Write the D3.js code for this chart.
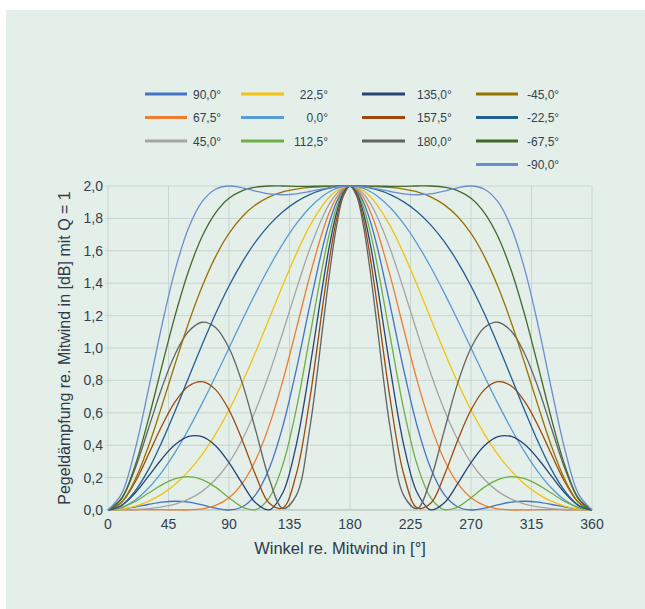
<!DOCTYPE html>
<html lang="de">
<head>
  <meta charset="UTF-8">
  <title>Pegeldämpfung re. Mitwind</title>
  <script src="https://d3js.org/d3.v7.min.js"></script>
  <style>
    html, body {
      margin: 0;
      padding: 0;
      overflow: hidden;
      background: #ffffff;
      font-family: "Liberation Sans", Arial, sans-serif;
    }
    svg {
      display: block;
    }
    .tick-label {
      font-size: 14px;
      fill: #333f4f;
    }
    .axis-title {
      font-size: 16.5px;
      fill: #2f3b4b;
    }
    .legend-text {
      font-size: 12px;
      fill: #333f4f;
    }
  </style>
</head>
<body>
  <svg id="chart" width="645" height="609"></svg>

  <script>
    // Winkel (x) – gemeinsame Stützstellen aller Kurven
    const angles = [0, 10, 20, 30, 40, 50, 60, 70, 80, 90, 100, 110, 120, 130, 140, 150, 160, 165, 170, 175,
      180, 185, 190, 195, 200, 210, 220, 230, 240, 250, 260, 270, 280, 290, 300, 310, 320, 330, 340, 350, 360];

    const xTicks = [0, 45, 90, 135, 180, 225, 270, 315, 360];
    const yTicks = [0, 0.2, 0.4, 0.6, 0.8, 1.0, 1.2, 1.4, 1.6, 1.8, 2.0];

    const seriesLabels = ["90,0°", "67,5°", "45,0°", "22,5°", "0,0°", "112,5°", "135,0°",
      "157,5°", "180,0°", "-45,0°", "-22,5°", "-67,5°", "-90,0°"];

    const y90 = [0, .005, .018, .034, .048, .054, .049, .032, .011, 0, .020, .097, .258, .516, .864, 1.259, 1.632, 1.784, 1.901, 1.974,
      2, 1.974, 1.901, 1.784, 1.632, 1.259, .864, .516, .258, .097, .020, 0, .011, .032, .049, .054, .048, .034, .018, .005, 0];
    const y67 = [0, .0005, .0015, .002, .002, .0004, .0004, .007, .028, .076, .166, .312, .524, .797, 1.115, 1.442, 1.730, 1.844, 1.929, 1.982,
      2, 1.982, 1.929, 1.844, 1.730, 1.442, 1.115, .797, .524, .312, .166, .076, .028, .007, .0004, .0004, .002, .002, .0015, .0005, 0];
    const y45 = [0, .001, .003, .009, .019, .037, .067, .115, .188, .293, .437, .621, .844, 1.096, 1.359, 1.609, 1.815, 1.894, 1.952, 1.988,
      2, 1.988, 1.952, 1.894, 1.815, 1.609, 1.359, 1.096, .844, .621, .437, .293, .188, .115, .067, .037, .019, .009, .003, .001, 0];
    const y22 = [0, .006, .023, .053, .098, .159, .240, .342, .468, .617, .789, .980, 1.182, 1.387, 1.581, 1.752, 1.885, 1.935, 1.971, 1.993,
      2, 1.993, 1.971, 1.935, 1.885, 1.752, 1.581, 1.387, 1.182, .980, .789, .617, .468, .342, .240, .159, .098, .053, .023, .006, 0];
    const y0 = [0, .015, .060, .134, .234, .357, .500, .658, .826, 1, 1.174, 1.342, 1.500, 1.643, 1.766, 1.866, 1.940, 1.966, 1.985, 1.996,
      2, 1.996, 1.985, 1.966, 1.940, 1.866, 1.766, 1.643, 1.500, 1.342, 1.174, 1, .826, .658, .500, .357, .234, .134, .060, .015, 0];
    const y112 = [0, .014, .052, .103, .155, .193, .206, .188, .141, .076, .018, .003, .077, .279, .620, 1.065, 1.523, 1.718, 1.870, 1.967,
      2, 1.967, 1.870, 1.718, 1.523, 1.065, .620, .279, .077, .003, .018, .076, .141, .188, .206, .193, .155, .103, .052, .014, 0];
    const y135 = [0, .027, .103, .207, .315, .404, .454, .453, .397, .293, .161, .043, .001, .106, .401, .870, 1.404, 1.644, 1.835, 1.957,
      2, 1.957, 1.835, 1.644, 1.404, .870, .401, .106, .001, .043, .161, .293, .397, .453, .454, .404, .315, .207, .103, .027, 0];
    const y157 = [0, .046, .170, .341, .519, .669, .765, .792, .743, .617, .428, .212, .041, .013, .220, .679, 1.278, 1.563, 1.795, 1.947,
      2, 1.947, 1.795, 1.563, 1.278, .679, .220, .013, .041, .212, .428, .617, .743, .792, .765, .669, .519, .341, .170, .046, 0];
    const y180 = [0, .068, .252, .500, .753, .963, 1.103, 1.159, 1.126, 1, .780, .487, .190, .009, .089, .500, 1.147, 1.476, 1.752, 1.936,
      2, 1.936, 1.752, 1.476, 1.147, .500, .089, .009, .190, .487, .780, 1, 1.126, 1.159, 1.103, .963, .753, .500, .252, .068, 0];
    const yM45 = [0, .048, .185, .391, .641, .904, 1.156, 1.379, 1.564, 1.707, 1.812, 1.885, 1.933, 1.964, 1.981, 1.991, 1.997, 1.998, 1.999, 2,
      2, 2, 1.999, 1.998, 1.997, 1.991, 1.981, 1.964, 1.933, 1.885, 1.812, 1.707, 1.564, 1.379, 1.156, .904, .641, .391, .185, .048, 0];
    const yM22 = [0, .029, .115, .248, .419, .613, .818, 1.020, 1.211, 1.383, 1.532, 1.658, 1.760, 1.841, 1.902, 1.947, 1.977, 1.987, 1.994, 1.999,
      2, 1.999, 1.994, 1.987, 1.977, 1.947, 1.902, 1.841, 1.760, 1.658, 1.532, 1.383, 1.211, 1.020, .818, .613, .419, .248, .115, .029, 0];
    const yM67 = [0, .071, .270, .558, .885, 1.203, 1.477, 1.688, 1.834, 1.924, 1.972, 1.993, 2, 2, 1.998, 1.998, 1.999, 1.999, 2, 2,
      2, 2, 2, 1.999, 1.999, 1.998, 1.998, 2, 2, 1.993, 1.972, 1.924, 1.834, 1.688, 1.477, 1.203, .885, .558, .270, .071, 0];
    const yM90 = [0, .098, .368, .741, 1.137, 1.484, 1.742, 1.903, 1.980, 2, 1.989, 1.968, 1.951, 1.946, 1.952, 1.966, 1.982, 1.990, 1.995, 1.999,
      2, 1.999, 1.995, 1.990, 1.982, 1.966, 1.952, 1.946, 1.951, 1.968, 1.989, 2, 1.980, 1.903, 1.742, 1.484, 1.137, .741, .368, .098, 0];

    const seriesValues = [y90, y67, y45, y22, y0, y112, y135, y157, y180, yM45, yM22, yM67, yM90];

    // Excel-Standardpalette
    const seriesColors = ["#4472c4", "#ed7d31", "#a5a5a5", "#f3c212", "#5b9bd5", "#70ad47", "#264478",
      "#9e480e", "#636363", "#997300", "#255e91", "#43682b", "#698ed0"];

    const svg = d3.select("#chart");
    const margin = { left: 108, right: 53, top: 186, bottom: 99 };
    const W = 645, H = 609;

    svg.append("rect")
      .attr("x", 6).attr("y", 10)
      .attr("width", W - 6).attr("height", H - 10)
      .attr("fill", "#e3efe8");

    const x = d3.scaleLinear().domain([0, 360]).range([margin.left, W - margin.right]);
    const y = d3.scaleLinear().domain([0, 2]).range([H - margin.bottom, margin.top]);

    const comma = v => d3.format(".1f")(v).replace(".", ",");

    // Gitter
    const grid = svg.append("g");
    grid.selectAll(".hgrid").data(yTicks).enter().append("line")
      .attr("x1", x(0) - 3).attr("x2", x(360))
      .attr("y1", d => y(d)).attr("y2", d => y(d))
      .attr("stroke", "#c9d5d0").attr("stroke-width", 1);
    grid.selectAll(".vgrid").data(xTicks).enter().append("line")
      .attr("x1", d => x(d)).attr("x2", d => x(d))
      .attr("y1", y(2)).attr("y2", y(0))
      .attr("stroke", "#c9d5d0").attr("stroke-width", 1);
    svg.append("line")
      .attr("x1", x(0)).attr("x2", x(360))
      .attr("y1", y(0)).attr("y2", y(0))
      .attr("stroke", "#b7c3be").attr("stroke-width", 1);

    // Achsenbeschriftung
    svg.append("g").selectAll("text").data(xTicks).enter().append("text")
      .attr("class", "tick-label")
      .attr("x", d => x(d)).attr("y", 529)
      .attr("text-anchor", "middle")
      .text(d => d);
    svg.append("g").selectAll("text").data(yTicks).enter().append("text")
      .attr("class", "tick-label")
      .attr("x", 103).attr("y", d => y(d))
      .attr("dy", "0.36em")
      .attr("text-anchor", "end")
      .text(d => comma(d));

    svg.append("text")
      .attr("class", "axis-title")
      .attr("x", 340).attr("y", 554)
      .attr("text-anchor", "middle")
      .text("Winkel re. Mitwind in [°]");
    svg.append("text")
      .attr("class", "axis-title")
      .attr("transform", `translate(70,${(y(0) + y(2)) / 2}) rotate(-90)`)
      .attr("text-anchor", "middle")
      .style("font-size", "16px")
      .text("Pegeldämpfung re. Mitwind in [dB] mit Q = 1");

    // Kurven
    const line = d3.line()
      .x((d, i) => x(angles[i]))
      .y(d => y(d))
      .curve(d3.curveCatmullRom.alpha(0.5));

    svg.append("g").selectAll("path").data(seriesValues).enter().append("path")
      .attr("d", d => line(d))
      .attr("fill", "none")
      .attr("stroke", (d, i) => seriesColors[i])
      .attr("stroke-width", 1.3);

    // Legende (spaltenweise)
    const rowY = [94, 117.5, 141, 164.5];
    const colLine = [[145, 187], [241, 284], [362, 405], [476, 518]];
    const colText = [[193, "start"], [328, "end"], [417, "start"], [527, "start"]];
    const legend = svg.append("g");
    seriesLabels.forEach((label, i) => {
      const col = Math.min(Math.floor(i / 3), 3);
      const row = i - col * 3;
      legend.append("line")
        .attr("x1", colLine[col][0]).attr("x2", colLine[col][1])
        .attr("y1", rowY[row]).attr("y2", rowY[row])
        .attr("stroke", seriesColors[i]).attr("stroke-width", 3);
      legend.append("text")
        .attr("class", "legend-text")
        .attr("x", colText[col][0]).attr("y", rowY[row] + 4.5)
        .attr("text-anchor", colText[col][1])
        .text(label);
    });
  </script>
</body>
</html>
